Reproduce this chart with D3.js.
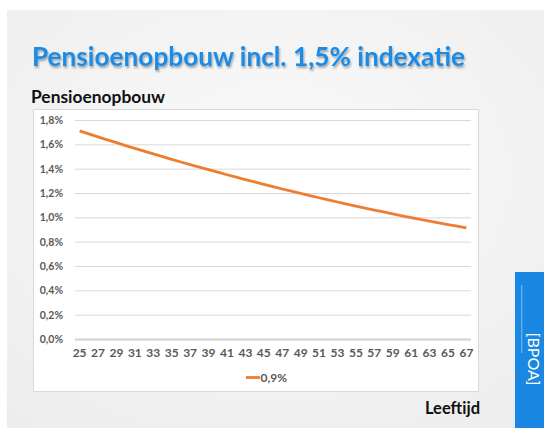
<!DOCTYPE html>
<html><head><meta charset="utf-8">
<script src="https://cdn.jsdelivr.net/npm/d3@7/dist/d3.min.js"></script>
<style>html,body{margin:0;padding:0;background:#fff;}svg{display:block;}</style>
</head><body>
<script>
const ages = d3.range(25, 68);
const values = [1.710,1.686,1.661,1.637,1.614,1.590,1.567,1.544,1.522,1.499,1.477,1.455,1.434,1.413,1.392,1.371,1.350,1.330,1.310,1.291,1.271,1.252,1.233,1.215,1.197,1.179,1.161,1.143,1.126,1.109,1.092,1.076,1.060,1.044,1.028,1.013,0.998,0.983,0.969,0.955,0.941,0.927,0.914];
const yTicks = [0,0.2,0.4,0.6,0.8,1.0,1.2,1.4,1.6,1.8];
const xTickLabels = ages.filter(a => (a - 25) % 2 === 0);
const seriesName = "0,9%";
const title = "Pensioenopbouw incl. 1,5% indexatie";
const chartTitle = "Pensioenopbouw";
const xTitle = "Leeftijd";
const sideLabel = "[BPOA]";

const W = 544, H = 428;
const svg = d3.select("body").append("svg").attr("width", W).attr("height", H);
const defs = svg.append("defs");
const rg = defs.append("radialGradient").attr("id","bg").attr("cx","50%").attr("cy","40%").attr("r","75%");
rg.append("stop").attr("offset","0%").attr("stop-color","#fafafa");
rg.append("stop").attr("offset","100%").attr("stop-color","#ededed");
const sh = defs.append("filter").attr("id","sh").attr("x","-5%").attr("y","-20%").attr("width","110%").attr("height","160%");
sh.append("feDropShadow").attr("dx",1).attr("dy",2).attr("stdDeviation",1.2).attr("flood-color","#000").attr("flood-opacity",0.35);

svg.append("rect").attr("width",W).attr("height",H).attr("fill","#fff");
svg.append("rect").attr("x",7).attr("y",10).attr("width",W-7).attr("height",H-10).attr("fill","url(#bg)");

// Title
svg.append("text").attr("x",32).attr("y",66).text(title)
  .attr("font-family","Lato, 'Open Sans', sans-serif").attr("font-weight","bold").attr("font-size",26)
  .attr("fill","#1a8be6").attr("filter","url(#sh)")
  .attr("textLength",433).attr("lengthAdjust","spacingAndGlyphs");

svg.append("text").attr("x",31).attr("y",103).text(chartTitle)
  .attr("font-family","Lato, 'Open Sans', sans-serif").attr("font-weight","bold").attr("font-size",16.5)
  .attr("fill","#111").attr("textLength",134).attr("lengthAdjust","spacingAndGlyphs");

// Chart box
svg.append("rect").attr("x",33.5).attr("y",109.5).attr("width",445).attr("height",282)
  .attr("fill","#fff").attr("stroke","#d9d9d9");

const x = d3.scaleBand().domain(ages).range([75, 471]);
const y = d3.scaleLinear().domain([0, 1.8]).range([339, 120]);
const fmt = v => v.toFixed(1).replace(".", ",") + "%";

// Gridlines
const grid = svg.append("g").attr("transform","translate(75,0)")
  .call(d3.axisLeft(y).tickValues(yTicks).tickSize(-396).tickFormat(""));
grid.select(".domain").remove();
grid.selectAll(".tick line").attr("stroke","#d9d9d9").attr("stroke-width",d => d === 0 ? 2.5 : 1);

// Y labels
const ya = svg.append("g").attr("transform","translate(63,0)")
  .call(d3.axisLeft(y).tickValues(yTicks).tickSize(0).tickPadding(0).tickFormat(fmt));
ya.select(".domain").remove();
ya.selectAll("text").attr("font-family","Lato, 'Open Sans', sans-serif").attr("font-size",10.5)
  .attr("fill","#595959").attr("font-weight","bold");

// X labels
const xa = svg.append("g").attr("transform","translate(0,348)")
  .call(d3.axisBottom(x).tickValues(xTickLabels).tickSize(0).tickPadding(0));
xa.select(".domain").remove();
xa.selectAll("text").attr("font-family","Lato, 'Open Sans', sans-serif").attr("font-size",12)
  .attr("fill","#595959").attr("font-weight","bold");

// Line
const data = ages.map((a,i) => ({a, v: values[i]}));
svg.append("path").datum(data)
  .attr("fill","none").attr("stroke","#ed7d31").attr("stroke-width",2.8)
  .attr("stroke-linejoin","round")
  .attr("d", d3.line().x(d => x(d.a) + x.bandwidth()/2).y(d => y(d.v)));

// Legend
svg.append("line").attr("x1",246).attr("x2",260).attr("y1",377.5).attr("y2",377.5)
  .attr("stroke","#ed7d31").attr("stroke-width",2.8);
svg.append("text").attr("x",260.5).attr("y",382).text(seriesName)
  .attr("font-family","Lato, 'Open Sans', sans-serif").attr("font-size",12)
  .attr("fill","#595959").attr("font-weight","bold");

// X title
svg.append("text").attr("x",480).attr("y",414).attr("text-anchor","end").text(xTitle)
  .attr("font-family","Lato, 'Open Sans', sans-serif").attr("font-weight","bold").attr("font-size",16.5)
  .attr("fill","#111");

// Side bar
svg.append("rect").attr("x",515).attr("y",272).attr("width",W-515).attr("height",H-272).attr("fill","#1a87e3");
svg.append("rect").attr("x",521).attr("y",285).attr("width",1.3).attr("height",68).attr("fill","#8cc4f2").attr("opacity",0.7);
svg.append("text").attr("transform","translate(528,359) rotate(90)").attr("text-anchor","middle")
  .text(sideLabel).attr("font-family","Lato, 'Open Sans', sans-serif").attr("font-size",16)
  .attr("fill","#fff");
</script>
</body></html>
